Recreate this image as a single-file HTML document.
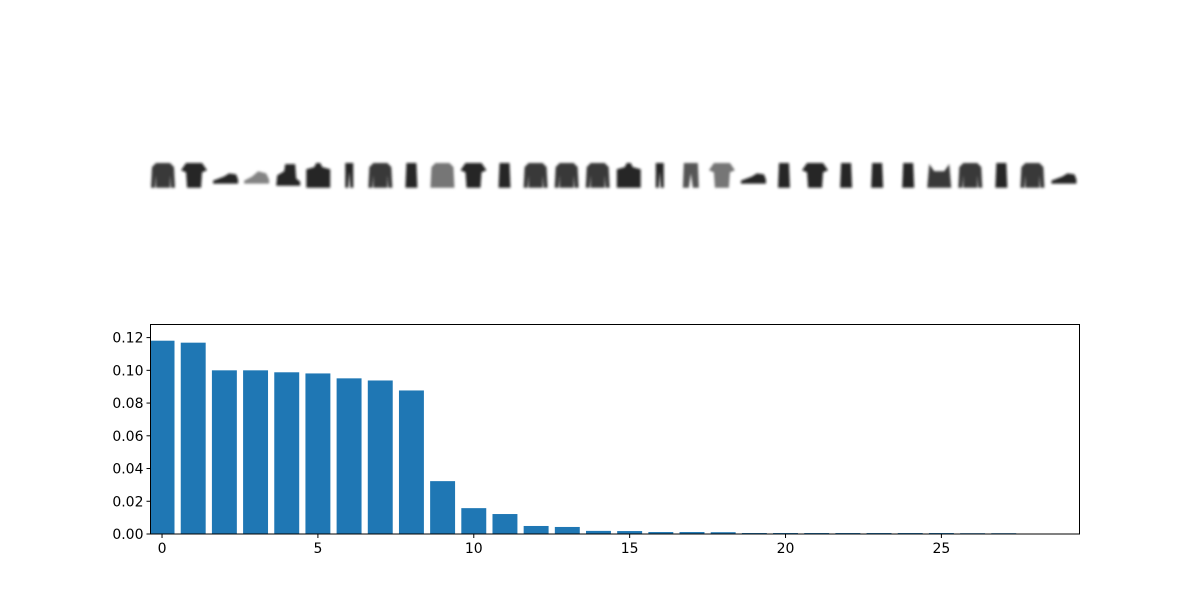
<!DOCTYPE html>
<html><head><meta charset="utf-8"><style>
html,body{margin:0;padding:0;background:#fff;}
svg{display:block;font-family:"DejaVu Sans","Liberation Sans",sans-serif;}
</style></head><body>
<svg id="fig" width="1200" height="600" viewBox="0 0 1200 600">
<defs><filter id="blur" x="-30%" y="-30%" width="160%" height="160%"><feGaussianBlur stdDeviation="1.4"/></filter></defs>
<g id="thumbs"></g>
<g id="chart"></g>
</svg>
<script>
const categories = [0,1,2,3,4,5,6,7,8,9,10,11,12,13,14,15,16,17,18,19,20,21,22,23,24,25,26,27];
const values = [0.1181,0.1169,0.1000,0.1000,0.0988,0.0981,0.0951,0.0938,0.0877,0.0323,0.0158,0.0122,0.0049,0.0043,0.0019,0.0018,0.0012,0.0012,0.0011,0.0006,0.0006,0.0006,0.0006,0.0006,0.0006,0.0006,0.0005,0.0005];
const xTicks = [0,5,10,15,20,25];
const yTicks = [0,0.02,0.04,0.06,0.08,0.10,0.12];
const yTickLabels = ["0.00","0.02","0.04","0.06","0.08","0.10","0.12"];
const thumbTypes = ["pullover","tshirt","sneaker","sneakerFaint","boot","bag","trouser","pullover","dress","shirtGray","tshirt","dress","pullover","pullover","pullover","bag","trouser","trouserGray","tshirtGray","sneaker","dress","tshirt","dress","dress","dress","top","pullover","dress","pullover","sneaker"];

const NS="http://www.w3.org/2000/svg";
function mk(tag,attrs,parent){const e=document.createElementNS(NS,tag);for(const k in attrs)e.setAttribute(k,attrs[k]);parent.appendChild(e);return e;}
const L=150.5,R=1079.5,T=324.5,B=534;
const xMin=-0.37,xMax=29.43,yMax=0.128;
const xs=v=>L+(v-xMin)/(xMax-xMin)*(R-L);
const ys=v=>B-v/yMax*(B-T);
const chart=document.getElementById('chart');
const clip=mk('clipPath',{id:'ax'},chart);mk('rect',{x:L,y:T,width:R-L,height:B-T},clip);
const bars=mk('g',{'clip-path':'url(#ax)'},chart);


categories.forEach((c,i)=>{
  const x0=xs(c-0.4),x1=xs(c+0.4);
  const r=mk('rect',{x:x0,y:ys(values[i]),width:x1-x0,height:B-ys(values[i]),fill:'#1f77b4'},bars);
  
  
});
const frame=mk('rect',{x:L,y:T,width:R-L,height:B-T,fill:'none',stroke:'#000','stroke-width':1},chart);


xTicks.forEach(t=>{
  const x=xs(t);
  mk('line',{x1:x,x2:x,y1:B,y2:B+4,stroke:'#000'},chart);
  const tx=mk('text',{x:x,y:B+19,'font-size':14,'text-anchor':'middle',fill:'#000'},chart);
  tx.textContent=t;
  
  
});
yTicks.forEach((t,i)=>{
  const y=ys(t);
  mk('line',{x1:L-4,x2:L,y1:y,y2:y,stroke:'#000'},chart);
  const tx=mk('text',{x:L-7,y:y+5,'font-size':14,'text-anchor':'end',fill:'#000'},chart);
  tx.textContent=yTickLabels[i];
  
  
});
const shapes={
 pullover:["M7,2 L21,2 L25,6 L26,26 L22,26 L21,14 L21,26 L7,26 L7,14 L6,26 L2,26 L3,6 Z",'#222'],
 tshirt:["M6,2 L22,2 L27,9 L22,11 L21,26 L7,26 L6,11 L1,9 Z",'#111'],
 tshirtGray:["M6,2 L22,2 L27,9 L22,11 L21,26 L7,26 L6,11 L1,9 Z",'#666'],
 sneaker:["M2,19 L13,15 L18,12 L25,13 L27,18 L27,22 L2,22 Z",'#111'],
 sneakerFaint:["M2,19 L10,15 L16,10 L24,12 L27,18 L27,22 L2,22 Z",'#777'],
 boot:["M4,14 L11,10 L12,3 L22,3 L23,17 L27,20 L27,24 L3,24 Z",'#111'],
 bag:["M2,8 L10,6 L12,2 L16,2 L18,6 L26,8 L26,26 L2,26 Z",'#111'],
 trouser:["M10,2 L18,2 L18,26 L15,26 L14,10 L13,26 L10,26 Z",'#111'],
 trouserGray:["M7,2 L21,2 L22,26 L16,26 L14,12 L12,26 L6,26 Z",'#444'],
 dress:["M9,2 L19,2 L20,26 L8,26 Z",'#111'],
 shirtGray:["M7,2 L21,2 L25,6 L26,26 L2,26 L3,6 Z",'#666'],
 top:["M4,3 L9,10 L19,10 L24,3 L26,26 L2,26 Z",'#222']
};
const thumbs=document.getElementById('thumbs');
thumbTypes.forEach((t,i)=>{
  const cx=163+i*31.05;
  const g=mk('g',{transform:`translate(${cx-14},161) scale(1,1.03)`,filter:'url(#blur)'},thumbs);
  
  
  mk('path',{d:shapes[t][0],fill:shapes[t][1],opacity:0.9},g);
});
</script>
</body></html>
